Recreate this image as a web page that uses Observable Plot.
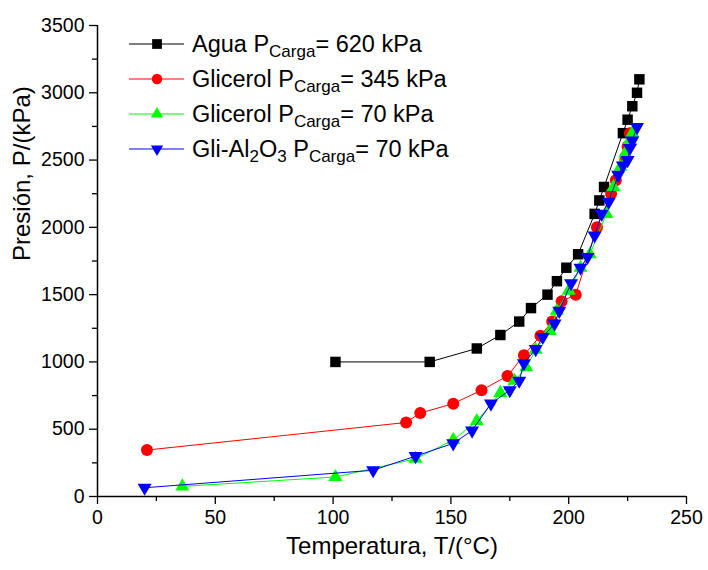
<!DOCTYPE html>
<html>
<head>
<meta charset="utf-8">
<script src="https://cdn.jsdelivr.net/npm/d3@7"></script>
<script src="https://cdn.jsdelivr.net/npm/@observablehq/plot@0.6"></script>
<style>
  html, body { margin: 0; padding: 0; background: #fff; }
  #chart { width: 708px; height: 570px; }
</style>
</head>
<body>
<div id="chart"></div>
<script>
// ---- Data ----
const seriesNames = ["Agua", "Glicerol345", "Glicerol70", "GliAl2O3"];
const seriesColors = ["#000000", "#ff0000", "#00ff00", "#0000ff"];

const aguaT = [101, 141, 161, 171, 179, 184, 191, 195, 199, 204, 211, 213, 215, 223, 225, 227, 229, 230];
const aguaP = [1000, 1000, 1100, 1200, 1300, 1400, 1500, 1600, 1700, 1800, 2100, 2200, 2300, 2700, 2800, 2900, 3000, 3100];

const gli345T = [21, 131, 137, 151, 163, 174, 181, 188, 193, 197, 203, 212, 218, 220, 224, 225, 226];
const gli345P = [345, 550, 620, 690, 790, 895, 1050, 1195, 1300, 1450, 1500, 2000, 2250, 2350, 2500, 2600, 2700];

const gli70T = [36, 101, 135, 151, 161, 171, 177, 182, 186, 192, 195, 200, 205, 209, 216, 219, 222, 224, 226, 227];
const gli70P = [75, 145, 280, 420, 560, 770, 860, 960, 1090, 1230, 1380, 1530, 1700, 1800, 2100, 2300, 2450, 2550, 2650, 2700];

const aluT = [20, 117, 135, 151, 159, 167, 175, 179, 181, 186, 189, 194, 196, 201, 205, 208, 211, 214, 217, 221, 223, 225, 226, 227, 229];
const aluP = [65, 195, 300, 395, 490, 690, 790, 860, 990, 1095, 1185, 1285, 1380, 1585, 1700, 1780, 1940, 2100, 2190, 2390, 2460, 2500, 2590, 2645, 2745];

const xTicks = [0, 50, 100, 150, 200, 250];
const xMinorTicks = [25, 75, 125, 175, 225];
const yTicks = [0, 500, 1000, 1500, 2000, 2500, 3000, 3500];
const yMinorTicks = [250, 750, 1250, 1750, 2250, 2750, 3250];

const xLabel = "Temperatura, T/(°C)";
const yLabel = "Presión, P/(kPa)";

// ---- Build table ----
const seriesArrays = [[aguaT, aguaP], [gli345T, gli345P], [gli70T, gli70P], [aluT, aluP]];
const rows = [];
seriesArrays.forEach(([ts, ps], i) => {
  ts.forEach((t, j) => rows.push({s: seriesNames[i], T: t, P: ps[j]}));
});

const markerStyles = [
  {symbol: "square", r: 5.9, rotate: 0},
  {symbol: "circle", r: 6, rotate: 0},
  {symbol: "triangle", r: 5.2, rotate: 0},
  {symbol: "triangle", r: 5.2, rotate: 180}
];

const seriesMarks = [];
seriesNames.forEach((name, i) => {
  seriesMarks.push(Plot.line(rows, {filter: d => d.s === name, x: "T", y: "P", stroke: seriesColors[i], strokeWidth: 1}));
  seriesMarks.push(Plot.dot(rows, {filter: d => d.s === name, x: "T", y: "P", fill: seriesColors[i], stroke: "none",
    symbol: markerStyles[i].symbol, r: markerStyles[i].r, rotate: markerStyles[i].rotate}));
});

const font = "'Liberation Sans', Arial, Helvetica, sans-serif";

const plot = Plot.plot({
  width: 708,
  height: 570,
  marginLeft: 97,
  marginRight: 22,
  marginTop: 25,
  marginBottom: 74,
  x: {domain: [0, 250], label: null},
  y: {domain: [0, 3500], label: null},
  style: {fontFamily: font, background: "#fff", color: "#000", overflow: "visible"},
  marks: [
    Plot.axisX({ticks: xMinorTicks, tickSize: 5, tickFormat: () => "", strokeWidth: 1.3, label: null}),
    Plot.axisX({ticks: xTicks, tickSize: 8, tickPadding: 6, fontSize: 19.5, strokeWidth: 1.3, label: null, tickFormat: d => String(d)}),
    Plot.axisY({ticks: yMinorTicks, tickSize: 5, tickFormat: () => "", strokeWidth: 1.3, label: null}),
    Plot.axisY({ticks: yTicks, tickSize: 8, tickPadding: 5, fontSize: 19.5, strokeWidth: 1.3, label: null, tickFormat: d => String(d)}),
    Plot.ruleY([0], {stroke: "#000", strokeWidth: 1.5}),
    Plot.ruleX([0], {stroke: "#000", strokeWidth: 1.5}),
    ...seriesMarks,
    Plot.text([xLabel], {frameAnchor: "bottom", dy: 57, fontSize: 24, fill: "#000"}),
    Plot.text([yLabel], {frameAnchor: "left", dx: -75, rotate: -90, fontSize: 24, fill: "#000"})
  ]
});

document.getElementById("chart").appendChild(plot);

// ---- Legend (inside the plot, top-left) ----
const svg = d3.select(plot);
const legend = svg.append("g").attr("font-family", font).attr("fill", "#000").attr("text-anchor", "start");
const legendRows = [
  {main: "Agua P", sub: "Carga", rest: "= 620 kPa"},
  {main: "Glicerol P", sub: "Carga", rest: "= 345 kPa"},
  {main: "Glicerol P", sub: "Carga", rest: "= 70 kPa"},
  {alu: true, sub: "Carga", rest: "= 70 kPa"}
];
const legendSymbols = [
  {type: d3.symbolSquare, size: 95, rotate: 0},
  {type: d3.symbolCircle, size: 85, rotate: 0},
  {type: d3.symbolTriangle, size: 65, rotate: 0},
  {type: d3.symbolTriangle, size: 65, rotate: 180}
];
const rowY = [44, 79, 114, 149];
legendRows.forEach((row, i) => {
  const y = rowY[i];
  legend.append("line").attr("x1", 129).attr("x2", 184).attr("y1", y).attr("y2", y)
    .attr("stroke", seriesColors[i]).attr("stroke-width", 1);
  legend.append("path").attr("d", d3.symbol(legendSymbols[i].type, legendSymbols[i].size)())
    .attr("transform", `translate(157,${y}) rotate(${legendSymbols[i].rotate})`)
    .attr("fill", seriesColors[i]);
  const t = legend.append("text").attr("x", 192).attr("y", y + 8).attr("font-size", 23.5)
    .attr("text-anchor", "start");
  if (row.alu) {
    t.append("tspan").text("Gli-Al");
    t.append("tspan").attr("font-size", 17).attr("dy", 5).text("2");
    t.append("tspan").attr("dy", -5).text("O");
    t.append("tspan").attr("font-size", 17).attr("dy", 5).text("3");
    t.append("tspan").attr("dy", -5).text(" P");
  } else {
    t.append("tspan").text(row.main);
  }
  t.append("tspan").attr("font-size", 17).attr("dy", 5).text(row.sub);
  t.append("tspan").attr("dy", -5).text(row.rest);
});
</script>
</body>
</html>
